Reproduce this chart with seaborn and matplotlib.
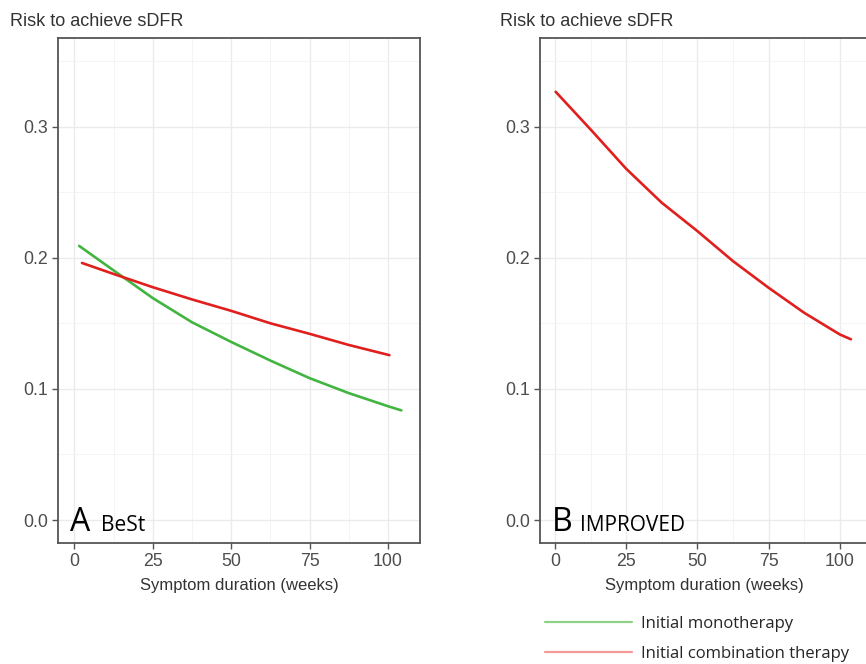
import matplotlib
matplotlib.use("Agg")
import matplotlib.pyplot as plt
from matplotlib.lines import Line2D
import seaborn as sns
import pandas as pd

# ---------------- data ----------------
best_mono_weeks = [1.5, 12.5, 25, 37.5, 50, 62.5, 75, 87.5, 100, 104.3]
best_mono_risk = [0.209, 0.1903, 0.1692, 0.1508, 0.1358, 0.1216, 0.1082, 0.0968, 0.0868, 0.0836]

best_combo_weeks = [2.4, 12.5, 25, 37.5, 50, 62.5, 75, 87.5, 100.5]
best_combo_risk = [0.196, 0.1876, 0.1775, 0.1682, 0.1595, 0.1500, 0.1420, 0.1335, 0.1257]

improved_combo_weeks = [0.25, 12.5, 25, 37.5, 50, 62.5, 75, 87.5, 100, 103.9]
improved_combo_risk = [0.3265, 0.2978, 0.2678, 0.2419, 0.2203, 0.1974, 0.1771, 0.1580, 0.1415, 0.1378]

therapy_labels = ["Initial monotherapy", "Initial combination therapy"]
x_ticks = [0, 25, 50, 75, 100]
y_ticks = [0.0, 0.1, 0.2, 0.3]
x_minor = [12.5, 37.5, 62.5, 87.5]
y_minor = [0.05, 0.15, 0.25, 0.35]
y_title = "Risk to achieve sDFR"
x_title = "Symptom duration (weeks)"

def frame(study, therapy, w, r):
    return pd.DataFrame({"study": study, "therapy": therapy, "weeks": w, "risk": r})

df = pd.concat([
    frame("BeSt", therapy_labels[0], best_mono_weeks, best_mono_risk),
    frame("BeSt", therapy_labels[1], best_combo_weeks, best_combo_risk),
    frame("IMPROVED", therapy_labels[1], improved_combo_weeks, improved_combo_risk),
], ignore_index=True)

# ---------------- style ----------------
sns.set_theme(style="white")
plt.rcParams["font.family"] = ["Liberation Sans", "DejaVu Sans"]

line_colors = {therapy_labels[0]: "#42b541", therapy_labels[1]: "#e0201f"}
legend_colors = {therapy_labels[0]: "#8ed28a", therapy_labels[1]: "#f49a98"}

W, H = 866, 664
fig = plt.figure(figsize=(W / 100, H / 100), dpi=100)
fig.patch.set_facecolor("white")

def fx(px):
    return px / W

def fy(py):
    return 1 - py / H

ax1 = fig.add_axes([fx(58), fy(543), fx(362), (543 - 38) / H])
ax2 = fig.add_axes([fx(540), fy(543), fx(329), (543 - 38) / H])

for ax, study in [(ax1, "BeSt"), (ax2, "IMPROVED")]:
    sub = df[df["study"] == study]
    sns.lineplot(data=sub, x="weeks", y="risk", hue="therapy", palette=line_colors,
                 ax=ax, legend=False, linewidth=1.9, sort=False, estimator=None)
    ax.set_xlim(-5.25, 110.25)
    ax.set_ylim(-0.0175, 0.3675)
    ax.set_xticks(x_ticks)
    ax.set_xticks(x_minor, minor=True)
    ax.set_yticks(y_ticks)
    ax.set_yticks(y_minor, minor=True)
    ax.set_xticklabels([str(t) for t in x_ticks])
    ax.set_yticklabels([f"{t:.1f}" for t in y_ticks])
    ax.grid(True, which="major", color="#ebebeb", linewidth=1.0)
    ax.grid(True, which="minor", color="#f3f3f3", linewidth=0.6)
    ax.set_axisbelow(True)
    ax.tick_params(axis="both", which="major", direction="out", length=4, width=1.0,
                   color="#555555", labelcolor="#4d4d4d", labelsize=12.8, pad=3,
                   bottom=True, left=True)
    ax.tick_params(axis="both", which="minor", length=0)
    for sp in ax.spines.values():
        sp.set_color("#555555")
        sp.set_linewidth(1.3)
    ax.set_xlabel(x_title, fontsize=12, color="#333333", labelpad=6)
    ax.set_ylabel("")

# titles
fig.text(fx(10), fy(22), y_title, fontsize=13, color="#333333", va="center", ha="left")
fig.text(fx(500), fy(22), y_title, fontsize=13, color="#333333", va="center", ha="left")

# panel labels
fig.text(fx(70), fy(531), "A", fontsize=23, family=["Open Sans", "DejaVu Sans"],
         color="black", va="baseline", ha="left")
fig.text(fx(101), fy(531), "BeSt", fontsize=15, family=["Open Sans", "DejaVu Sans"],
         color="black", va="baseline", ha="left")
fig.text(fx(552), fy(531), "B", fontsize=23, family=["Open Sans", "DejaVu Sans"],
         color="black", va="baseline", ha="left")
fig.text(fx(580), fy(531), "IMPROVED", fontsize=15, family=["Open Sans", "DejaVu Sans"],
         color="black", va="baseline", ha="left")

# legend
handles = [Line2D([0], [0], color=legend_colors[t], linewidth=1.6) for t in therapy_labels]
fig.legend(handles, therapy_labels, loc="upper left", bbox_to_anchor=(fx(545), fy(616)),
           frameon=False, handlelength=5.2, handletextpad=0.55, borderpad=0,
           borderaxespad=0, labelspacing=0.82,
           prop={"family": ["Open Sans", "DejaVu Sans"], "size": 12})

fig.savefig("out.png", dpi=100, facecolor="white")
